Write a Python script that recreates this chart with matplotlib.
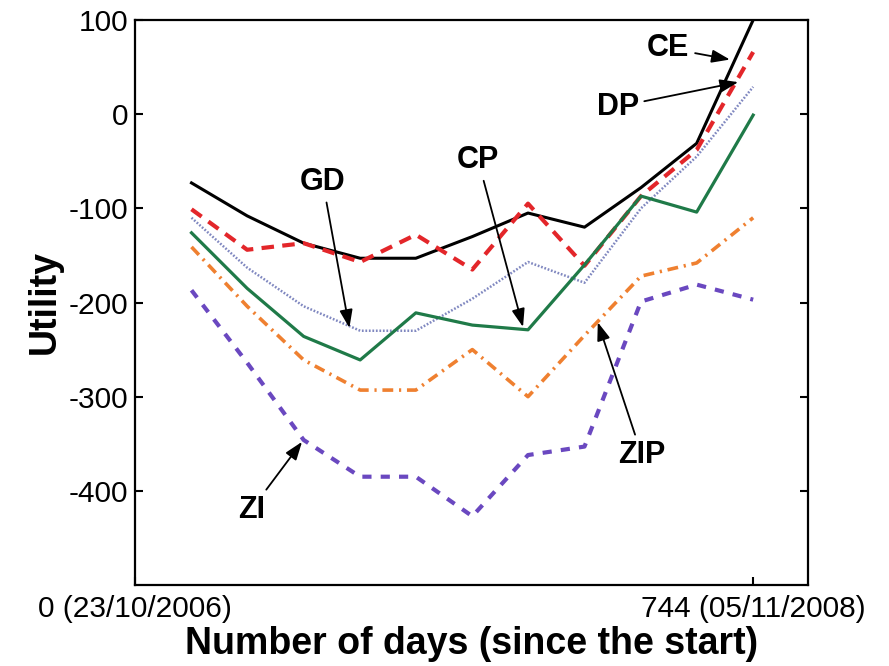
#!/usr/bin/env python3
import matplotlib
matplotlib.use('Agg')
import matplotlib.pyplot as plt

plt.rcParams['font.family'] = ['Liberation Sans', 'DejaVu Sans']
plt.rcParams['axes.unicode_minus'] = False

days = [68, 135, 203, 271, 338, 406, 473, 541, 609, 676, 744]

ce = [-73, -108, -137, -153, -153, -130, -105, -120, -78, -31, 100]
dp = [-101, -144, -137, -157, -128, -165, -95, -161, -87, -38, 66]
gd = [-110, -163, -204, -230, -230, -196, -157, -179, -100, -45, 29]
cp = [-126, -185, -236, -261, -211, -224, -229, -160, -87, -104, -1]
zip_ = [-141, -204, -261, -293, -293, -250, -300, -235, -172, -158, -110]
zi = [-187, -264, -346, -385, -385, -427, -362, -353, -199, -181, -197]

xticks = [0, 744]
xticklabels = ['0 (23/10/2006)', '744 (05/11/2008)']
yticks = [100, 0, -100, -200, -300, -400]

fig = plt.figure(figsize=(8.89, 6.66), dpi=100)
ax = fig.add_axes([135/889, 1-585/666, (808-135)/889, (585-20)/666])

ax.plot(days, ce, color='black', lw=2.2)
ax.plot(days, dp, color='#e3262a', lw=3.0, dashes=(3, 2))
ax.plot(days, gd, color='#8088c0', lw=1.8, dashes=(0.7, 0.7))
ax.plot(days, cp, color='#1f7a48', lw=2.3)
ax.plot(days, zip_, color='#ef8030', lw=2.6, dashes=(3, 1.6, 0.6, 1.6))
ax.plot(days, zi, color='#6a48c0', lw=3.0, dashes=(2.2, 2.2))

ax.set_xlim(0, 810)
ax.set_ylim(-500, 100)
ax.set_xticks(xticks)
ax.set_xticklabels(xticklabels)
ax.set_yticks(yticks)
ax.set_yticklabels([str(v) for v in yticks])
ax.tick_params(axis='both', direction='in', length=6, width=1.5, labelsize=21.5)
ax.tick_params(axis='x', pad=7)
ax.tick_params(axis='y', right=True, pad=5)
for s in ax.spines.values():
    s.set_linewidth(1.6)

ax.set_xlabel('Number of days (since the start)', fontsize=27, fontweight='bold', labelpad=2)
ax.set_ylabel('Utility', fontsize=27, fontweight='bold', labelpad=4)

arrow = dict(arrowstyle='-|>,head_length=0.5,head_width=0.18', color='black', lw=1.3,
             shrinkA=2, shrinkB=0)
notes = [
    ('CE', (642, 70), (716, 58)),
    ('DP', (581, 8), (726, 34)),
    ('GD', (226, -72), (258, -227)),
    ('CP', (413, -49), (467, -226)),
    ('ZI', (140, -420), (201, -348)),
    ('ZIP', (610, -362), (557, -221)),
]
for label, txt, tgt in notes:
    ax.annotate(label, xy=tgt, xytext=txt, ha='center', va='center',
                fontsize=22, fontweight='bold', arrowprops=arrow)

fig.savefig('out.png', dpi=100)
